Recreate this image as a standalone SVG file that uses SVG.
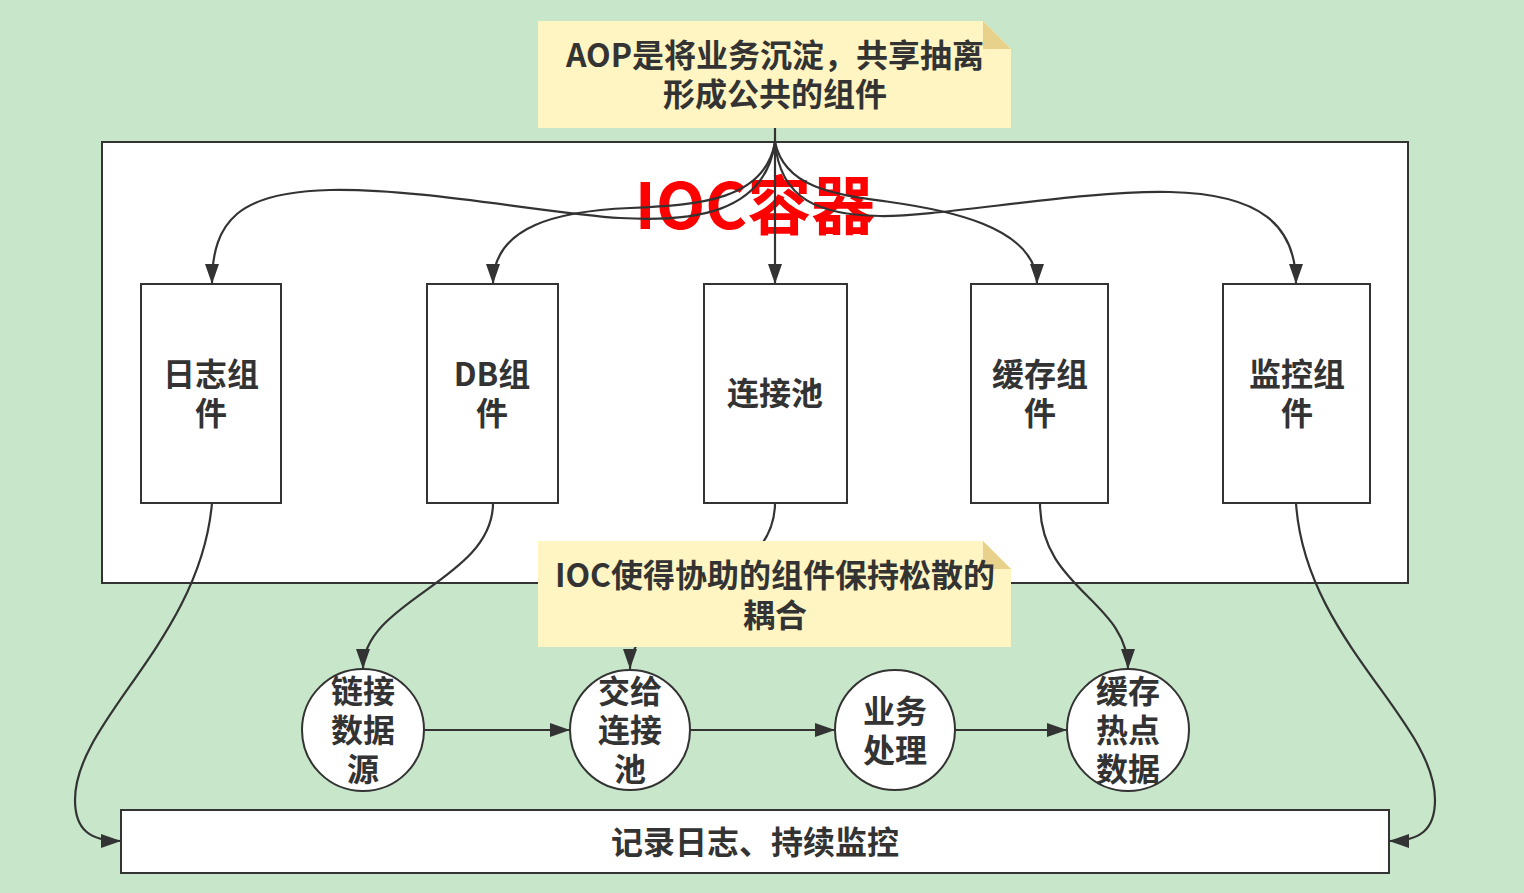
<svg xmlns="http://www.w3.org/2000/svg" width="1524" height="893" viewBox="0 0 1524 893">
<defs>
<marker id="arr" markerUnits="userSpaceOnUse" markerWidth="22" markerHeight="16" refX="20" refY="7" orient="auto">
<path d="M0,0 L20,7 L0,14 Z" fill="#333333"/>
</marker>
<style>
.bg{fill:#C7E6CA}
.box{fill:#FFFFFF;stroke:#333333;stroke-width:2}
.note{fill:#FFF5C2}
.fold{fill:#E7D18B}
.edge{fill:none;stroke:#333333;stroke-width:2.2;marker-end:url(#arr)}
.line{fill:none;stroke:#333333;stroke-width:2.2}
.t{font-family:"Noto Sans CJK SC","Noto Sans",sans-serif;font-weight:bold;font-size:32px;fill:#333333;text-anchor:middle}
.title{font-family:"Noto Sans CJK SC","Noto Sans",sans-serif;font-weight:bold;font-size:64px;fill:#FF0000;text-anchor:middle}
</style>
</defs>
<rect class="bg" x="0" y="0" width="1524" height="893"/>

<g id="container">
<rect class="box" x="102" y="142" width="1306" height="441"/>
<text class="title" x="755" y="229">IOC容器</text>
</g>

<g id="connectors">
<path class="line" d="M775,128 L775,142"/>
<path class="edge" d="M775,142 C765,215 690,222 620,218 S420,188 330,190 S212,220 212,284"/>
<path class="edge" d="M775,142 C765,200 700,205 630,208 S493,225 493,284"/>
<path class="edge" d="M775,142 L775,284"/>
<path class="edge" d="M775,142 C785,190 840,195 890,202 S1037,225 1037,284"/>
<path class="edge" d="M775,142 C780,200 820,215 880,216 S1080,190 1170,192 S1296,225 1296,284"/>
<path class="edge" d="M212,503 C200,640 75,720 75,800 C75,830 90,841 121,841"/>
<path class="edge" d="M1296,503 C1305,640 1435,720 1435,800 C1435,830 1420,841 1389,841"/>
<path class="edge" d="M493,503 C493,580 363,600 363,669"/>
<path class="edge" d="M775,503 C775,590 630,600 630,669"/>
<path class="edge" d="M1040,503 C1040,590 1128,600 1128,669"/>
<path class="edge" d="M424,730 L570,730"/>
<path class="edge" d="M690,730 L835,730"/>
<path class="edge" d="M955,730 L1067,730"/>
</g>

<g id="note-aop">
<path class="note" d="M538,21 L983,21 L1011,49 L1011,128 L538,128 Z"/>
<path class="fold" d="M983,21 L983,49 L1011,49 Z"/>
<text class="t" x="775" y="67">AOP是将业务沉淀，共享抽离</text>
<text class="t" x="775" y="106">形成公共的组件</text>
</g>

<g id="node-log">
<rect class="box" x="141" y="284" width="140" height="219"/>
<text class="t" x="211" y="386">日志组</text>
<text class="t" x="211" y="425">件</text>
</g>
<g id="node-db">
<rect class="box" x="427" y="284" width="131" height="219"/>
<text class="t" x="492" y="386">DB组</text>
<text class="t" x="492" y="425">件</text>
</g>
<g id="node-pool">
<rect class="box" x="704" y="284" width="143" height="219"/>
<text class="t" x="775" y="405">连接池</text>
</g>
<g id="node-cache">
<rect class="box" x="971" y="284" width="137" height="219"/>
<text class="t" x="1040" y="386">缓存组</text>
<text class="t" x="1040" y="425">件</text>
</g>
<g id="node-monitor">
<rect class="box" x="1223" y="284" width="147" height="219"/>
<text class="t" x="1297" y="386">监控组</text>
<text class="t" x="1297" y="425">件</text>
</g>

<g id="note-ioc">
<path class="note" d="M538,541 L983,541 L1011,569 L1011,647 L538,647 Z"/>
<path class="fold" d="M983,541 L983,569 L1011,569 Z"/>
<text class="t" x="775" y="587">IOC使得协助的组件保持松散的</text>
<text class="t" x="775" y="627">耦合</text>
</g>

<g id="node-ds">
<circle class="box" cx="363" cy="730" r="61"/>
<text class="t" x="363" y="703">链接</text>
<text class="t" x="363" y="742">数据</text>
<text class="t" x="363" y="781">源</text>
</g>
<g id="node-give">
<circle class="box" cx="630" cy="730" r="60"/>
<text class="t" x="630" y="703">交给</text>
<text class="t" x="630" y="742">连接</text>
<text class="t" x="630" y="781">池</text>
</g>
<g id="node-biz">
<circle class="box" cx="895" cy="730" r="60"/>
<text class="t" x="895" y="723">业务</text>
<text class="t" x="895" y="762">处理</text>
</g>
<g id="node-hot">
<circle class="box" cx="1128" cy="730" r="61"/>
<text class="t" x="1128" y="703">缓存</text>
<text class="t" x="1128" y="742">热点</text>
<text class="t" x="1128" y="781">数据</text>
</g>

<g id="node-log-monitor">
<rect class="box" x="121" y="810" width="1268" height="63"/>
<text class="t" x="755" y="854">记录日志、持续监控</text>
</g>
</svg>
